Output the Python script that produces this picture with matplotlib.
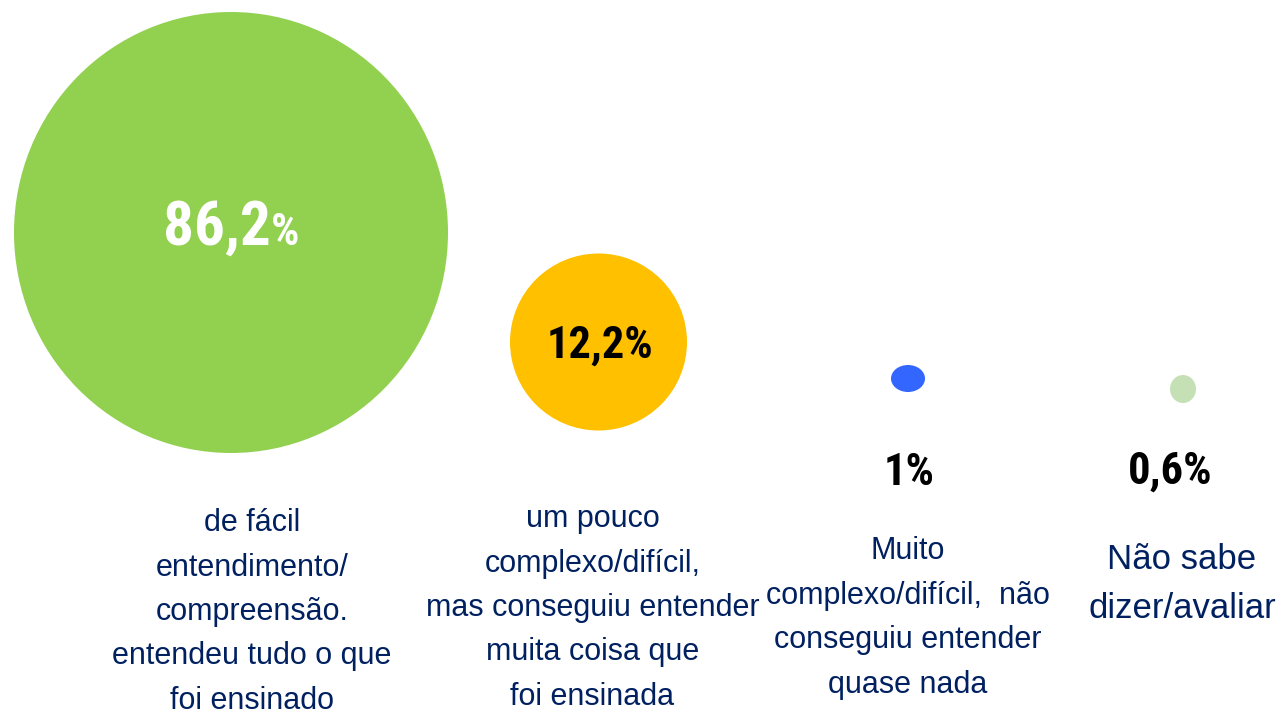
import matplotlib
matplotlib.use("Agg")
import matplotlib.pyplot as plt
from matplotlib import font_manager
from matplotlib.patches import Ellipse

# ── Dados ────────────────────────────────────────────────────────────────────
CATEGORIES = [
    "de fácil\nentendimento/\ncompreensão.\nentendeu tudo o que\nfoi ensinado",
    "um pouco\ncomplexo/difícil,\nmas conseguiu entender\nmuita coisa que\nfoi ensinada",
    "Muito\ncomplexo/difícil,  não\nconseguiu entender\nquase nada",
    "Não sabe\ndizer/avaliar",
]
VALUES = [86.2, 12.2, 1.0, 0.6]

# ── Layout / estilo (pixels) ─────────────────────────────────────────────────
W, H = 1281, 715
BUBBLE_X = [231, 598.5, 908, 1183]
BUBBLE_Y = [232.5, 342, 378.5, 389]
BUBBLE_W = [434, 177, 34, 26]
BUBBLE_H = [441, 177, 27, 28]
COLORS = ["#92D050", "#FFC000", "#3366FF", "#C5E0B4"]

PCT_X = [231.5, 600, 909.5, 1170]
PCT_BASE = [245, 358, 485, 484]
PCT_COLOR = ["white", "black", "black", "black"]
PCT_SIZE = [44, 32, 32, 32]
SMALL_PCT = [True, False, False, False]

LABEL_X = [252, 592.5, 908, 1182]
LABEL_CY = [612, 608, 618, 584]
LABEL_SIZE = [22, 22, 22, 25]
NAVY = "#002060"

REGULAR = ["Liberation Sans", "DejaVu Sans"]


def pick_narrow():
    # fonte condensada se existir; senao Liberation Sans reduzida
    for fam in ["Liberation Sans Narrow", "Arial Narrow", "Roboto Condensed",
                "DejaVu Sans Condensed", "Open Sans Condensed"]:
        try:
            font_manager.findfont(font_manager.FontProperties(family=fam),
                                  fallback_to_default=False)
            return fam, 1.0
        except ValueError:
            continue
    return "Liberation Sans", 0.86


NARROW_FAM, NARROW_SCALE = pick_narrow()


def fmt_pct(v):
    s = f"{v:.1f}".rstrip("0").rstrip(".")
    return s.replace(".", ",")


fig = plt.figure(figsize=(W / 100, H / 100), dpi=100)
ax = fig.add_axes([0, 0, 1, 1])
ax.set_xlim(0, W)
ax.set_ylim(H, 0)
ax.axis("off")

for i, v in enumerate(VALUES):
    ax.add_patch(Ellipse((BUBBLE_X[i], BUBBLE_Y[i]), BUBBLE_W[i], BUBBLE_H[i],
                         facecolor=COLORS[i], edgecolor="none"))

fig.canvas.draw()
renderer = fig.canvas.get_renderer()

for i, v in enumerate(VALUES):
    num = fmt_pct(v)
    size = PCT_SIZE[i] * NARROW_SCALE
    if SMALL_PCT[i]:
        # numero grande + "%" menor, centrados juntos
        t1 = ax.text(0, PCT_BASE[i], num, ha="left", va="baseline",
                     fontsize=size, fontweight="bold",
                     color=PCT_COLOR[i], family=NARROW_FAM)
        t2 = ax.text(0, PCT_BASE[i], "%", ha="left", va="baseline",
                     fontsize=size * 0.73, fontweight="bold",
                     color=PCT_COLOR[i], family=NARROW_FAM)
        w1 = t1.get_window_extent(renderer).width
        w2 = t2.get_window_extent(renderer).width
        x0 = PCT_X[i] - (w1 + w2) / 2
        t1.set_x(x0)
        t2.set_x(x0 + w1)
    else:
        ax.text(PCT_X[i], PCT_BASE[i], num + "%", ha="center", va="baseline",
                fontsize=size, fontweight="bold",
                color=PCT_COLOR[i], family=NARROW_FAM)

    ax.text(LABEL_X[i], LABEL_CY[i], CATEGORIES[i], ha="center", va="center",
            multialignment="center", fontsize=LABEL_SIZE[i], color=NAVY,
            family=REGULAR, linespacing=1.63)

fig.savefig("out.png", dpi=100)
plt.close(fig)
